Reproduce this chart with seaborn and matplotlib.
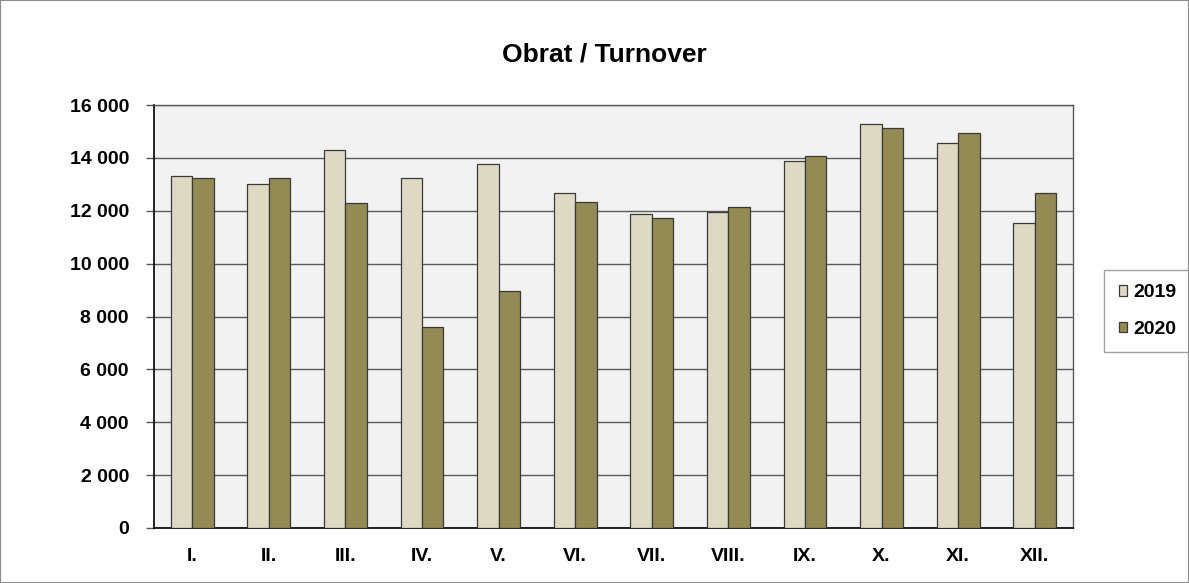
import pandas as pd
import seaborn as sns
import matplotlib.pyplot as plt
from matplotlib.patches import Rectangle
from matplotlib.ticker import FuncFormatter

# Data
months = ["I.", "II.", "III.", "IV.", "V.", "VI.", "VII.", "VIII.", "IX.", "X.", "XI.", "XII."]
turnover_2019 = [13310, 13030, 14290, 13230, 13760, 12680, 11870, 11950, 13890, 15300, 14550, 11530]
turnover_2020 = [13230, 13230, 12290, 7620, 8950, 12330, 11720, 12160, 14060, 15120, 14940, 12680]
years = ["2019", "2020"]
colors = ["#DDD9C3", "#948A54"]

df = pd.DataFrame({
    "month": months * 2,
    "year": [years[0]] * 12 + [years[1]] * 12,
    "value": turnover_2019 + turnover_2020,
})

sns.set_style("white")
plt.rcParams["font.family"] = ["Liberation Sans", "DejaVu Sans"]
plt.rcParams["font.weight"] = "bold"
plt.rcParams["text.color"] = "black"
plt.rcParams["xtick.color"] = "black"
plt.rcParams["ytick.color"] = "black"

fig = plt.figure(figsize=(11.89, 5.83), dpi=100)
ax = fig.add_axes([154 / 1189, 1 - 528 / 583, (1073 - 154) / 1189, (528 - 105) / 583])
ax.set_facecolor("#F2F2F2")

sns.barplot(
    data=df, x="month", y="value", hue="year",
    palette=colors, saturation=1, width=0.56, gap=0,
    edgecolor="#3A3A3A", linewidth=0.9, ax=ax, zorder=3,
)

ax.set_ylim(0, 16000)
ax.set_yticks(range(0, 16001, 2000))
ax.yaxis.set_major_formatter(FuncFormatter(lambda v, p: f"{int(v):,}".replace(",", " ")))
ax.grid(axis="y", color="#5A5A5A", linewidth=1, zorder=0)
ax.set_axisbelow(True)
ax.tick_params(axis="y", which="major", left=True, length=6, width=1, color="#5A5A5A",
               labelsize=14, pad=12, labelcolor="black")
ax.tick_params(axis="x", bottom=False, labelsize=14, pad=11, labelcolor="black")
for lbl in ax.get_xticklabels() + ax.get_yticklabels():
    lbl.set_fontweight("bold")
ax.set_xlabel("")
ax.set_ylabel("")
ax.set_xlim(-0.5, 11.5)

for side in ["left", "bottom"]:
    ax.spines[side].set_color("black")
    ax.spines[side].set_linewidth(1.2)
for side in ["top", "right"]:
    ax.spines[side].set_color("#5A5A5A")
    ax.spines[side].set_linewidth(1)

fig.text(604 / 1189, 1 - 55 / 583, "Obrat / Turnover", ha="center", va="center",
         fontsize=19, fontweight="bold", color="black")

handles, labels = ax.get_legend_handles_labels()
leg = ax.legend(handles, labels, loc="center left", bbox_to_anchor=(1104 / 1189, 1 - 311 / 583),
                bbox_transform=fig.transFigure, frameon=True, fancybox=False, edgecolor="#8C8C8C",
                handlelength=0.45, handleheight=0.45, handletextpad=0.3,
                labelspacing=1.0, borderpad=0.75, borderaxespad=0,
                prop={"weight": "bold", "size": 14})
for t in leg.get_texts():
    t.set_color("black")

fig.patches.append(Rectangle((0, 0), 1, 1, transform=fig.transFigure, fill=False,
                             edgecolor="#8C8C8C", linewidth=1.5))

fig.savefig("out.png", dpi=100)
